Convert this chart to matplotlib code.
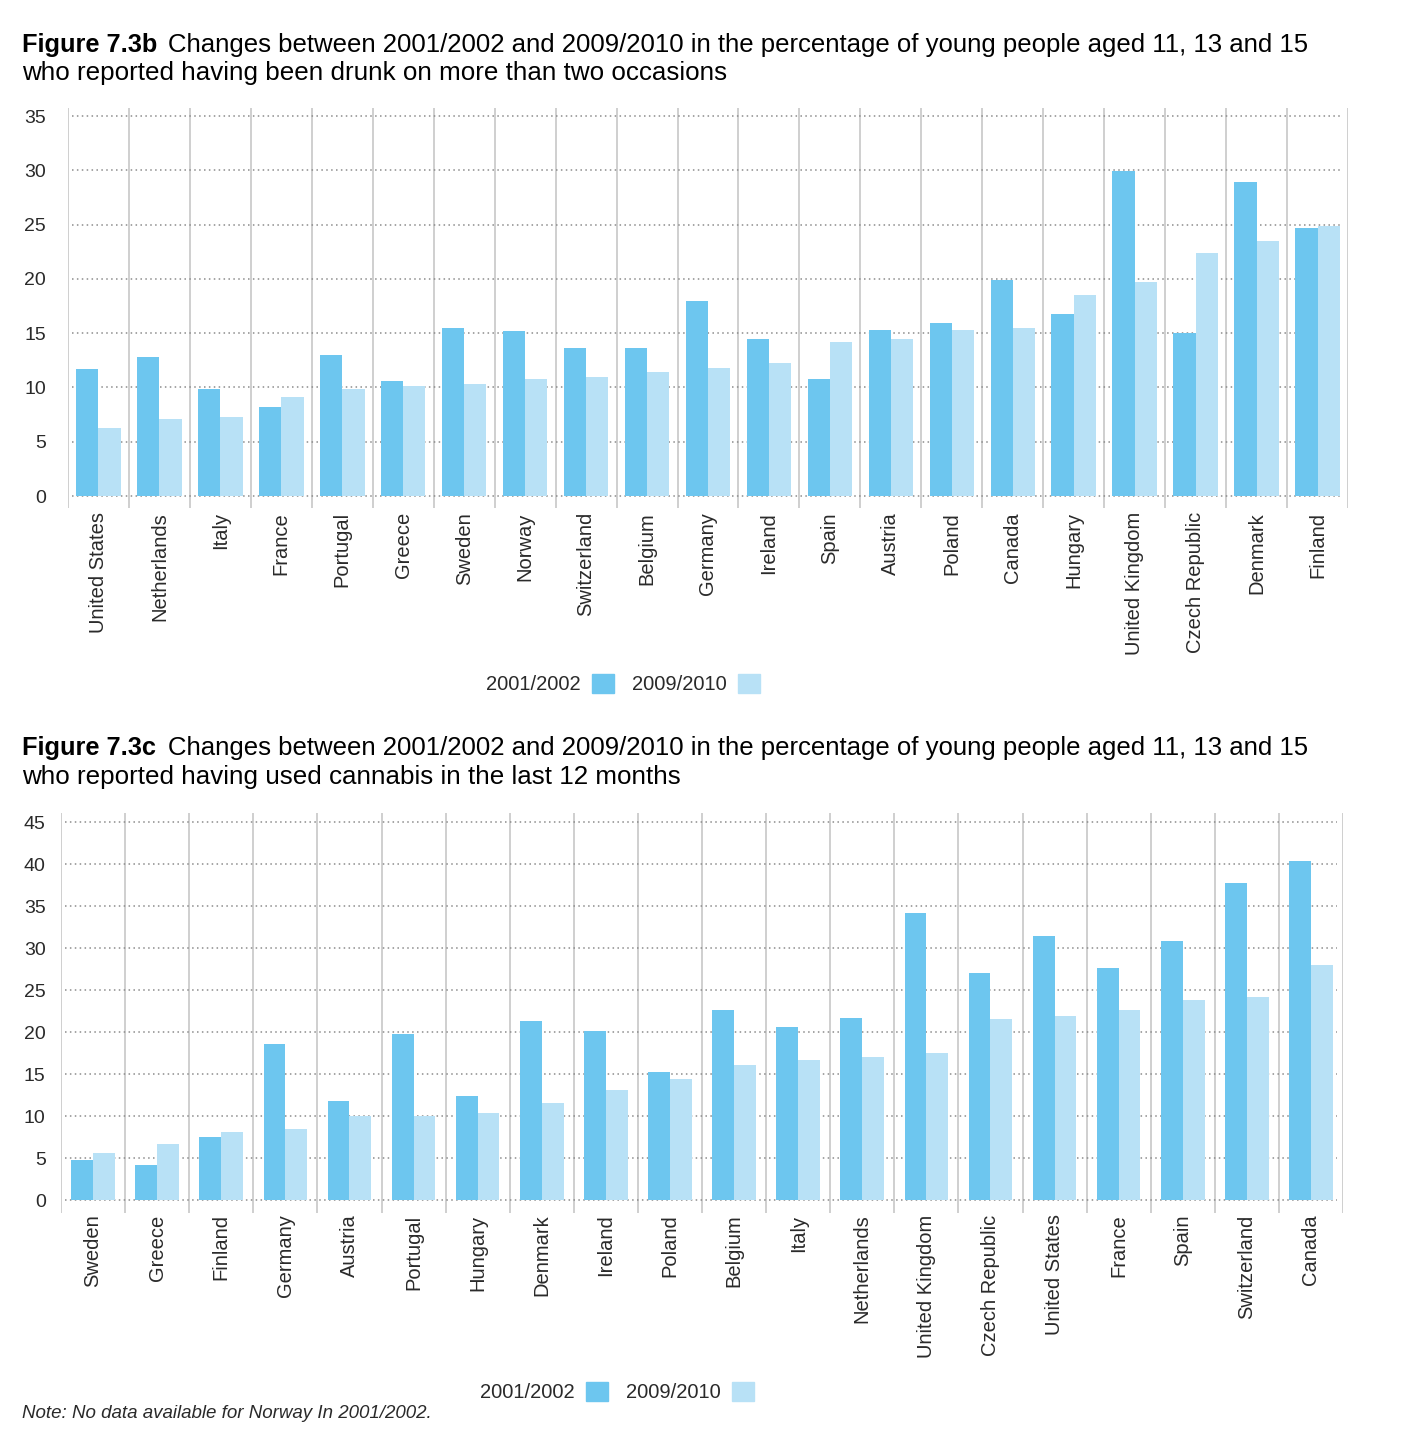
import numpy as np
import matplotlib
matplotlib.use("Agg")
import matplotlib.pyplot as plt
from matplotlib.patches import Patch

plt.rcParams['font.family'] = ['Liberation Sans', 'DejaVu Sans']

# --- data: figure 7.3b (drunk more than twice) ---
drunk_countries = ['United States', 'Netherlands', 'Italy', 'France', 'Portugal', 'Greece',
                   'Sweden', 'Norway', 'Switzerland', 'Belgium', 'Germany', 'Ireland', 'Spain',
                   'Austria', 'Poland', 'Canada', 'Hungary', 'United Kingdom', 'Czech Republic',
                   'Denmark', 'Finland']
drunk_0102 = [11.7, 12.8, 9.9, 8.2, 13.0, 10.6, 15.5, 15.2, 13.6, 13.6, 18.0, 14.5, 10.8,
              15.3, 15.9, 19.9, 16.8, 29.9, 15.0, 28.9, 24.7]
drunk_0910 = [6.3, 7.1, 7.3, 9.1, 9.9, 10.1, 10.3, 10.8, 11.0, 11.4, 11.8, 12.3, 14.2,
              14.5, 15.3, 15.5, 18.5, 19.7, 22.4, 23.5, 24.9]

# --- data: figure 7.3c (cannabis last 12 months) ---
cannabis_countries = ['Sweden', 'Greece', 'Finland', 'Germany', 'Austria', 'Portugal', 'Hungary',
                      'Denmark', 'Ireland', 'Poland', 'Belgium', 'Italy', 'Netherlands',
                      'United Kingdom', 'Czech Republic', 'United States', 'France', 'Spain',
                      'Switzerland', 'Canada']
cannabis_0102 = [4.8, 4.2, 7.5, 18.6, 11.8, 19.8, 12.4, 21.3, 20.1, 15.3, 22.7, 20.6, 21.7,
                 34.2, 27.1, 31.5, 27.6, 30.9, 37.8, 40.4]
cannabis_0910 = [5.6, 6.7, 8.1, 8.5, 10.1, 10.1, 10.4, 11.6, 13.1, 14.5, 16.1, 16.7, 17.1,
                 17.5, 21.6, 22.0, 22.6, 23.9, 24.2, 28.0]

years = ['2001/2002', '2009/2010']

DARK = '#6dc6ef'
LIGHT = '#b8e1f6'
TXT = '#2a2a2a'
W, H = 1401, 1449

fig = plt.figure(figsize=(W / 100, H / 100), dpi=100)


def px_axes(left, top, right, bottom):
    return fig.add_axes([left / W, 1 - bottom / H, (right - left) / W, (bottom - top) / H])


def bar_panel(ax, cats, v1, v2, ymax, ylo, yhi, bw, ypad, xpad):
    n = len(cats)
    x = np.arange(n) + 0.5
    ax.set_xlim(0, n)
    ax.set_ylim(ylo, yhi)
    ticks = np.arange(0, ymax + 1, 5)
    ax.hlines(ticks, 0.06, n - 0.1, colors='#8c8c8c', linestyles=(0, (1, 2.2)), lw=1.1, zorder=1)
    for b in range(n + 1):
        ax.axvline(b, color='#cfcfcf', lw=1.4, zorder=0)
    ax.bar(x - bw / 2, v1, bw, color=DARK, zorder=2)
    ax.bar(x + bw / 2, v2, bw, color=LIGHT, zorder=2)
    for s in ax.spines.values():
        s.set_visible(False)
    ax.set_yticks(ticks)
    ax.set_yticklabels([str(t) for t in ticks], fontsize=14, color=TXT)
    ax.set_xticks(x)
    ax.set_xticklabels(cats, rotation=90, fontsize=14.5, color=TXT, va='top')
    ax.tick_params(axis='y', length=0, pad=ypad)
    ax.tick_params(axis='x', length=0, pad=xpad)


def legend(ax, cx, cy):
    handles = [Patch(color=DARK), Patch(color=LIGHT)]
    ax.legend(handles, years, loc='center', bbox_to_anchor=(cx / W, 1 - cy / H),
              bbox_transform=fig.transFigure, ncol=2, frameon=False, markerfirst=False,
              fontsize=14.5, handlelength=1.1, handleheight=1.1, handletextpad=0.55,
              columnspacing=0.9, borderpad=0, labelcolor=TXT)


# top panel
ax1 = px_axes(68, 108, 1348, 508)
bar_panel(ax1, drunk_countries, drunk_0102, drunk_0910, 35, -1.1, 35.74, 0.365, 16, 3)
legend(ax1, 623, 684)

# bottom panel
ax2 = px_axes(61, 813, 1343, 1213)
bar_panel(ax2, cannabis_countries, cannabis_0102, cannabis_0910, 45, -1.5, 46.1, 0.34, 11, 1)
legend(ax2, 617, 1392)


# titles
def title(y1, y2, fig_no, line1, line2):
    fig.text(22 / W, 1 - y1 / H, fig_no, fontsize=18.3, fontweight='bold', va='baseline')
    fig.text(168 / W, 1 - y1 / H, line1, fontsize=18.5, va='baseline')
    fig.text(22 / W, 1 - y2 / H, line2, fontsize=18.7, va='baseline')


title(52, 80, 'Figure 7.3b',
      'Changes between 2001/2002 and 2009/2010 in the percentage of young people aged 11, 13 and 15',
      'who reported having been drunk on more than two occasions')
title(755, 784, 'Figure 7.3c',
      'Changes between 2001/2002 and 2009/2010 in the percentage of young people aged 11, 13 and 15',
      'who reported having used cannabis in the last 12 months')

fig.text(22 / W, 1 - 1413 / H, 'Note: No data available for Norway In 2001/2002.',
         fontsize=13.5, style='italic', va='center', color=TXT)

fig.savefig('out.png', dpi=100, facecolor='white')
